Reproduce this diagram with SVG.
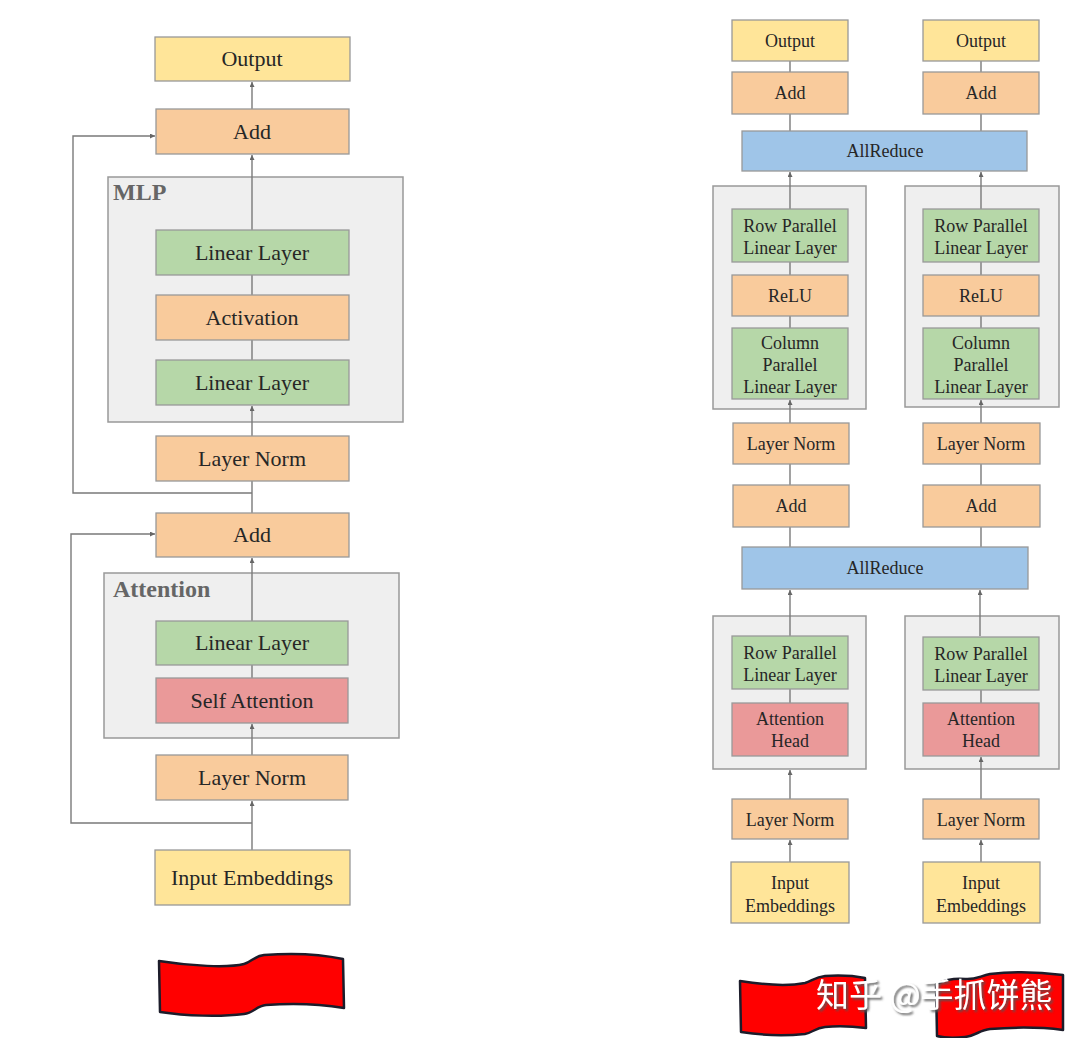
<svg xmlns="http://www.w3.org/2000/svg" width="1080" height="1038" viewBox="0 0 1080 1038">
<defs>
<marker id="ah" viewBox="0 0 10 10" refX="10" refY="5" markerWidth="5" markerHeight="5" orient="auto" markerUnits="userSpaceOnUse">
<path d="M0,0 L10,5 L0,10 Z" fill="#666"/>
</marker>
<filter id="sh" x="-10%" y="-20%" width="130%" height="160%">
<feDropShadow dx="2" dy="2" stdDeviation="1.2" flood-color="#555" flood-opacity="0.9"/>
</filter>
<style>
.n{stroke:#999;stroke-width:1.3}
.y{fill:#FFE599}.o{fill:#F9CB9C}.g{fill:#B6D7A8}.r{fill:#EA9999}.b{fill:#9FC5E8}
.grp{fill:#EFEFEF;stroke:#999;stroke-width:1.5}
.t{font-family:"Liberation Serif","Times New Roman",serif;fill:#262626;text-anchor:middle}
.tl{font-size:22px}.tr{font-size:18px}
.gl{font-family:"Liberation Serif","Times New Roman",serif;font-weight:bold;font-size:24px;fill:#666}
.c{fill:none;stroke:#7a7a7a;stroke-width:1.4}
.ca{fill:none;stroke:#7a7a7a;stroke-width:1.4;marker-end:url(#ah)}
.flag{fill:#FF0000;stroke:#1c1c2a;stroke-width:2.5;stroke-linejoin:round}
.wm{font-family:"Noto Sans CJK SC","Noto Sans",sans-serif;font-size:33px;fill:#fff;filter:url(#sh)}
</style>
</defs>
<rect width="1080" height="1038" fill="#fff"/>

<!-- LEFT: groups -->
<g id="mlp-group"><rect class="grp" x="108" y="177" width="295" height="245"/><text class="gl" x="113" y="200">MLP</text></g>
<g id="attention-group"><rect class="grp" x="104" y="573" width="295" height="165"/><text class="gl" x="113" y="597">Attention</text></g>

<!-- LEFT connectors -->
<g id="connectors-left">
<line class="ca" x1="252" y1="109" x2="252" y2="82"/>
<line class="ca" x1="252" y1="230" x2="252" y2="155"/>
<line class="c" x1="252" y1="275" x2="252" y2="295"/>
<line class="c" x1="252" y1="340" x2="252" y2="360"/>
<line class="ca" x1="252" y1="436" x2="252" y2="406"/>
<line class="c" x1="252" y1="513" x2="252" y2="481"/>
<polyline class="ca" points="252,493 73,493 73,136 155,136"/>
<line class="ca" x1="252" y1="621" x2="252" y2="558"/>
<line class="c" x1="252" y1="665" x2="252" y2="678"/>
<line class="ca" x1="252" y1="755" x2="252" y2="724"/>
<line class="ca" x1="252" y1="850" x2="252" y2="801"/>
<polyline class="ca" points="252,823 71,823 71,534 155,534"/>
</g>

<!-- LEFT nodes -->
<g id="l-output"><rect class="n y" x="155" y="37" width="195" height="44"/><text class="t tl" x="252" y="66">Output</text></g>
<g id="l-add2"><rect class="n o" x="156" y="109" width="193" height="45"/><text class="t tl" x="252" y="139">Add</text></g>
<g id="l-linear2"><rect class="n g" x="156" y="230" width="193" height="45"/><text class="t tl" x="252" y="260">Linear Layer</text></g>
<g id="l-activation"><rect class="n o" x="156" y="295" width="193" height="45"/><text class="t tl" x="252" y="325">Activation</text></g>
<g id="l-linear1"><rect class="n g" x="156" y="360" width="193" height="45"/><text class="t tl" x="252" y="390">Linear Layer</text></g>
<g id="l-norm2"><rect class="n o" x="156" y="436" width="193" height="45"/><text class="t tl" x="252" y="466">Layer Norm</text></g>
<g id="l-add1"><rect class="n o" x="156" y="513" width="193" height="44"/><text class="t tl" x="252" y="542">Add</text></g>
<g id="l-linear0"><rect class="n g" x="156" y="621" width="192" height="44"/><text class="t tl" x="252" y="650">Linear Layer</text></g>
<g id="l-selfattn"><rect class="n r" x="156" y="678" width="192" height="45"/><text class="t tl" x="252" y="708">Self Attention</text></g>
<g id="l-norm1"><rect class="n o" x="156" y="755" width="192" height="45"/><text class="t tl" x="252" y="785">Layer Norm</text></g>
<g id="l-input"><rect class="n y" x="155" y="850" width="195" height="55"/><text class="t tl" x="252" y="885">Input Embeddings</text></g>

<!-- RIGHT groups -->
<g id="r-mlp-a"><rect class="grp" x="713" y="186" width="153" height="223"/></g>
<g id="r-mlp-b"><rect class="grp" x="905" y="186" width="154" height="221"/></g>
<g id="r-attn-a"><rect class="grp" x="713" y="616" width="153" height="153"/></g>
<g id="r-attn-b"><rect class="grp" x="905" y="616" width="154" height="153"/></g>

<!-- RIGHT connectors -->
<g id="connectors-right">
<line class="c" x1="790" y1="72" x2="790" y2="61"/>
<line class="c" x1="981" y1="72" x2="981" y2="61"/>
<line class="c" x1="790" y1="131" x2="790" y2="114"/>
<line class="c" x1="981" y1="131" x2="981" y2="114"/>
<line class="ca" x1="790" y1="209" x2="790" y2="172"/>
<line class="ca" x1="981" y1="209" x2="981" y2="172"/>
<line class="c" x1="790" y1="262" x2="790" y2="275"/>
<line class="c" x1="981" y1="262" x2="981" y2="275"/>
<line class="c" x1="790" y1="316" x2="790" y2="328"/>
<line class="c" x1="981" y1="316" x2="981" y2="328"/>
<line class="ca" x1="790" y1="423" x2="790" y2="400"/>
<line class="ca" x1="981" y1="423" x2="981" y2="400"/>
<line class="c" x1="790" y1="485" x2="790" y2="464"/>
<line class="c" x1="981" y1="485" x2="981" y2="464"/>
<line class="c" x1="790" y1="547" x2="790" y2="527"/>
<line class="c" x1="981" y1="547" x2="981" y2="527"/>
<line class="ca" x1="790" y1="636" x2="790" y2="590"/>
<line class="ca" x1="980" y1="636" x2="980" y2="590"/>
<line class="c" x1="790" y1="689" x2="790" y2="703"/>
<line class="c" x1="981" y1="689" x2="981" y2="703"/>
<line class="ca" x1="790" y1="799" x2="790" y2="770"/>
<line class="ca" x1="981" y1="799" x2="981" y2="757"/>
<line class="ca" x1="790" y1="862" x2="790" y2="840"/>
<line class="ca" x1="981" y1="862" x2="981" y2="840"/>
</g>

<!-- RIGHT nodes -->
<g id="r-output-a"><rect class="n y" x="732" y="20" width="116" height="41"/><text class="t tr" x="790" y="47">Output</text></g>
<g id="r-output-b"><rect class="n y" x="923" y="20" width="116" height="41"/><text class="t tr" x="981" y="47">Output</text></g>
<g id="r-add2-a"><rect class="n o" x="732" y="72" width="116" height="42"/><text class="t tr" x="790" y="99">Add</text></g>
<g id="r-add2-b"><rect class="n o" x="923" y="72" width="116" height="42"/><text class="t tr" x="981" y="99">Add</text></g>
<g id="r-allreduce2"><rect class="n b" x="742" y="131" width="285" height="40"/><text class="t tr" x="885" y="157">AllReduce</text></g>
<g id="r-row2-a"><rect class="n g" x="732" y="209" width="116" height="53"/><text class="t tr" x="790" y="232">Row Parallel</text><text class="t tr" x="790" y="254">Linear Layer</text></g>
<g id="r-row2-b"><rect class="n g" x="923" y="209" width="116" height="53"/><text class="t tr" x="981" y="232">Row Parallel</text><text class="t tr" x="981" y="254">Linear Layer</text></g>
<g id="r-relu-a"><rect class="n o" x="732" y="275" width="116" height="41"/><text class="t tr" x="790" y="302">ReLU</text></g>
<g id="r-relu-b"><rect class="n o" x="923" y="275" width="116" height="41"/><text class="t tr" x="981" y="302">ReLU</text></g>
<g id="r-col-a"><rect class="n g" x="732" y="328" width="116" height="71"/><text class="t tr" x="790" y="349">Column</text><text class="t tr" x="790" y="371">Parallel</text><text class="t tr" x="790" y="393">Linear Layer</text></g>
<g id="r-col-b"><rect class="n g" x="923" y="328" width="116" height="71"/><text class="t tr" x="981" y="349">Column</text><text class="t tr" x="981" y="371">Parallel</text><text class="t tr" x="981" y="393">Linear Layer</text></g>
<g id="r-norm2-a"><rect class="n o" x="733" y="423" width="116" height="41"/><text class="t tr" x="791" y="450">Layer Norm</text></g>
<g id="r-norm2-b"><rect class="n o" x="923" y="423" width="117" height="41"/><text class="t tr" x="981" y="450">Layer Norm</text></g>
<g id="r-add1-a"><rect class="n o" x="733" y="485" width="116" height="42"/><text class="t tr" x="791" y="512">Add</text></g>
<g id="r-add1-b"><rect class="n o" x="923" y="485" width="117" height="42"/><text class="t tr" x="981" y="512">Add</text></g>
<g id="r-allreduce1"><rect class="n b" x="742" y="547" width="286" height="42"/><text class="t tr" x="885" y="574">AllReduce</text></g>
<g id="r-row1-a"><rect class="n g" x="732" y="636" width="116" height="53"/><text class="t tr" x="790" y="659">Row Parallel</text><text class="t tr" x="790" y="681">Linear Layer</text></g>
<g id="r-row1-b"><rect class="n g" x="923" y="637" width="116" height="53"/><text class="t tr" x="981" y="660">Row Parallel</text><text class="t tr" x="981" y="682">Linear Layer</text></g>
<g id="r-head-a"><rect class="n r" x="732" y="703" width="116" height="53"/><text class="t tr" x="790" y="725">Attention</text><text class="t tr" x="790" y="747">Head</text></g>
<g id="r-head-b"><rect class="n r" x="923" y="703" width="116" height="53"/><text class="t tr" x="981" y="725">Attention</text><text class="t tr" x="981" y="747">Head</text></g>
<g id="r-norm1-a"><rect class="n o" x="732" y="799" width="116" height="40"/><text class="t tr" x="790" y="826">Layer Norm</text></g>
<g id="r-norm1-b"><rect class="n o" x="923" y="799" width="116" height="40"/><text class="t tr" x="981" y="826">Layer Norm</text></g>
<g id="r-input-a"><rect class="n y" x="731" y="862" width="118" height="61"/><text class="t tr" x="790" y="889">Input</text><text class="t tr" x="790" y="912">Embeddings</text></g>
<g id="r-input-b"><rect class="n y" x="923" y="862" width="117" height="61"/><text class="t tr" x="981" y="889">Input</text><text class="t tr" x="981" y="912">Embeddings</text></g>

<!-- flags -->
<path class="flag" d="M159,961 C190,966 228,968 244,964 C252,962 254,956 264,955 C290,953 320,954 343,959 L344,1008 C320,1004 292,1003 266,1005 C256,1006 254,1013 244,1014 C220,1017 186,1016 160,1012 Z"/>
<path class="flag" d="M740,981 C765,985 790,986 805,983 C812,981 815,977 825,976 C840,975 855,976 865,978 L866,1028 C850,1026 835,1026 825,1027 C815,1028 812,1033 805,1034 C785,1036 760,1035 741,1032 Z"/>
<path class="flag" d="M936,984 C945,980 955,978 965,979 C975,980 980,976 990,974 C1015,971 1040,972 1063,975 L1063,1030 C1040,1027 1015,1027 990,1029 C980,1030 975,1036 965,1037 C955,1038 945,1038 937,1036 Z"/>
<text class="wm" x="816" y="1007">知乎 @手抓饼熊</text>
</svg>
